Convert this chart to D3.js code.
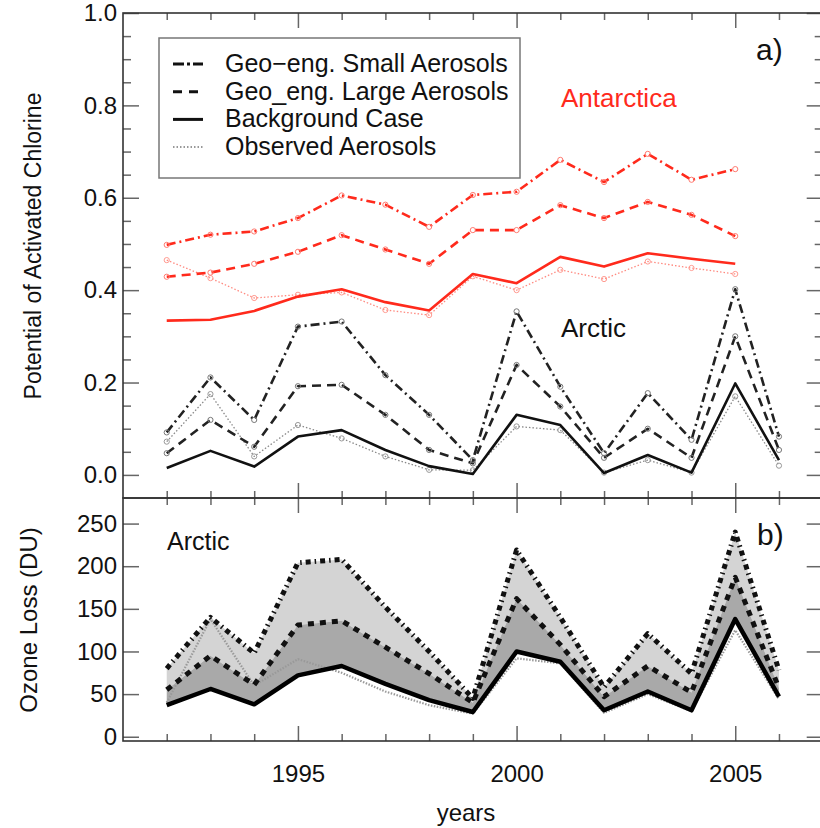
<!DOCTYPE html>
<html>
<head>
<meta charset="utf-8">
<script src="https://cdn.jsdelivr.net/npm/d3@7"></script>
<style>
  html, body { margin: 0; padding: 0; background: #fff; }
  svg text { font-family: "Liberation Sans", Arial, Helvetica, sans-serif; fill: #111; }
</style>
</head>
<body>
<svg id="chart" width="820" height="828"></svg>
<script>
// ---------------- data ----------------
const years = [1992,1993,1994,1995,1996,1997,1998,1999,2000,2001,2002,2003,2004,2005,2006];
const antYears = [1992,1993,1994,1995,1996,1997,1998,1999,2000,2001,2002,2003,2004,2005];

// Potential of activated chlorine - Antarctica
const antSmall = [0.498,0.520,0.527,0.556,0.605,0.585,0.537,0.606,0.613,0.682,0.634,0.695,0.639,0.662];
const antLarge = [0.429,0.438,0.457,0.483,0.519,0.488,0.457,0.530,0.530,0.584,0.556,0.591,0.563,0.517];
const antBase  = [0.334,0.336,0.355,0.386,0.402,0.374,0.356,0.435,0.415,0.472,0.451,0.480,0.468,0.457];
const antObs   = [0.465,0.426,0.383,0.390,0.395,0.357,0.346,0.430,0.400,0.444,0.424,0.462,0.448,0.435];

// Potential of activated chlorine - Arctic
const arcSmall = [0.092,0.211,0.119,0.321,0.332,0.216,0.130,0.032,0.354,0.191,0.047,0.177,0.076,0.402,0.083];
const arcLarge = [0.047,0.119,0.061,0.192,0.195,0.130,0.054,0.025,0.238,0.148,0.037,0.100,0.037,0.300,0.054];
const arcBase  = [0.015,0.052,0.018,0.083,0.097,0.054,0.019,0.002,0.130,0.108,0.004,0.043,0.005,0.198,0.032];
const arcObs   = [0.072,0.175,0.040,0.108,0.079,0.040,0.011,0.010,0.105,0.097,0.005,0.032,0.005,0.170,0.020];

// Arctic ozone loss (DU)
const ozSmall = [80,140,98,204,208,152,100,45,219,140,58,121,74,240,78];
const ozLarge = [55,95,61,131,136,105,74,40,162,108,47,83,52,187,57];
const ozBase  = [37,56,38,72,83,62,43,29,100,88,31,53,31,138,47];
const ozObs   = [40,138,60,91,75,53,37,27,92,86,28,50,30,125,44];

// ticks / labels
const xMajor = [1995,2000,2005];
const xMinor = [1992,1993,1994,1996,1997,1998,1999,2001,2002,2003,2004,2006];
const yTopMajor = [0,0.2,0.4,0.6,0.8,1.0];
const yTopMinor = [0.05,0.1,0.15,0.25,0.3,0.35,0.45,0.5,0.55,0.65,0.7,0.75,0.85,0.9,0.95];
const yBotTicks = [0,50,100,150,200,250];
const legendLabels = ["Geo\u2212eng. Small Aerosols","Geo_eng. Large Aerosols","Background Case","Observed Aerosols"];

// ---------------- layout ----------------
const svg = d3.select("#chart");
const L = 123, R = 822.7, T1 = 13, B1 = 498, B2 = 741;
const x = d3.scaleLinear().domain([1991,2007]).range([L,R]);
const yT = d3.scaleLinear().domain([-0.05,1.0]).range([B1,T1]);
const yB = d3.scaleLinear().domain([-5,280]).range([B2,B1]);

const RED = "#ff2a1c";
const tickColor = "#666";

// ---------------- bottom panel fills ----------------
const idx = d3.range(years.length);
const areaSL = d3.area().x(i => x(years[i])).y0(i => yB(ozLarge[i])).y1(i => yB(ozSmall[i]));
const areaLB = d3.area().x(i => x(years[i])).y0(i => yB(ozBase[i])).y1(i => yB(ozLarge[i]));
svg.append("path").attr("d", areaSL(idx)).attr("fill", "#d4d4d4");
svg.append("path").attr("d", areaLB(idx)).attr("fill", "#a9a9a9");

// ---------------- axes / ticks ----------------
function styleAxis(g) {
  g.select(".domain").remove();
  g.selectAll(".tick line").attr("stroke", tickColor).attr("stroke-width", 1.5);
  g.selectAll(".tick text").style("font-size", "24px").attr("fill", "#111");
}
function xEdge(yPos, inwardDown, withLabels) {
  const mk = inwardDown ? d3.axisTop : d3.axisBottom;
  const sMinor = svg.append("g").attr("transform", `translate(0,${yPos})`)
    .call(mk(x).tickValues(xMinor).tickSize(-7).tickFormat(""));
  styleAxis(sMinor);
  const sMajor = svg.append("g").attr("transform", `translate(0,${yPos})`)
    .call(mk(x).tickValues(xMajor).tickSize(-15).tickFormat(""));
  styleAxis(sMajor);
  if (withLabels) {
    const g = svg.append("g").attr("transform", `translate(0,${yPos})`)
      .call(d3.axisBottom(x).tickValues(xMajor).tickSize(0).tickPadding(24).tickFormat(d3.format("d")));
    styleAxis(g);
  }
}
xEdge(T1, true, false);
xEdge(B1, false, false);
xEdge(B1, true, false);
xEdge(B2, false, true);

// top panel y ticks
[[L, d3.axisLeft, true], [R, d3.axisRight, false]].forEach(([xp, mk, lab]) => {
  const gm = svg.append("g").attr("transform", `translate(${xp},0)`)
    .call(mk(yT).tickValues(yTopMinor).tickSize(-8).tickFormat(""));
  styleAxis(gm);
  const gM = svg.append("g").attr("transform", `translate(${xp},0)`)
    .call(mk(yT).tickValues(yTopMajor).tickSize(-16).tickPadding(22).tickFormat(lab ? d3.format(".1f") : ""));
  styleAxis(gM);
  if (lab) gM.selectAll(".tick text").attr("x", -6);
});
// bottom panel y ticks
[[L, d3.axisLeft, true], [R, d3.axisRight, false]].forEach(([xp, mk, lab]) => {
  const g = svg.append("g").attr("transform", `translate(${xp},0)`)
    .call(mk(yB).tickValues(yBotTicks).tickSize(-16).tickFormat(lab ? d3.format("d") : ""));
  styleAxis(g);
  if (lab) g.selectAll(".tick text").attr("x", -6);
});

// frames
svg.append("rect").attr("x", L).attr("y", T1).attr("width", R - L).attr("height", B1 - T1)
  .attr("fill", "none").attr("stroke", "#333").attr("stroke-width", 1.6);
svg.append("rect").attr("x", L).attr("y", B1).attr("width", R - L).attr("height", B2 - B1)
  .attr("fill", "none").attr("stroke", "#333").attr("stroke-width", 1.6);

// ---------------- top panel lines ----------------
const styles = {
  small: { dash: "9,4,2,4", w: 2.6 },
  large: { dash: "9,6", w: 2.6 },
  base:  { dash: null, w: 2.6 },
  obs:   { dash: "1.5,2", w: 1.3 }
};
function drawLine(xs, vals, yScale, color, st, markers) {
  const line = d3.line().x((d, i) => x(xs[i])).y(d => yScale(d));
  svg.append("path").attr("d", line(vals)).attr("fill", "none")
    .attr("stroke", color).attr("stroke-width", st.w)
    .attr("stroke-dasharray", st.dash).attr("stroke-linejoin", "round");
  if (markers) {
    svg.append("g").selectAll("circle").data(vals).join("circle")
      .attr("cx", (d, i) => x(xs[i])).attr("cy", d => yScale(d)).attr("r", 2.6)
      .attr("fill", "none").attr("stroke", markers).attr("stroke-width", 1);
  }
}
drawLine(antYears, antObs, yT, "#ff8a80", styles.obs, "#ff9a90");
drawLine(antYears, antBase, yT, RED, styles.base, null);
drawLine(antYears, antLarge, yT, RED, styles.large, "#ff7a70");
drawLine(antYears, antSmall, yT, RED, styles.small, "#ff7a70");

drawLine(years, arcObs, yT, "#888", styles.obs, "#999");
drawLine(years, arcBase, yT, "#111", styles.base, null);
drawLine(years, arcLarge, yT, "#222", styles.large, "#777");
drawLine(years, arcSmall, yT, "#222", styles.small, "#777");

// ---------------- bottom panel lines ----------------
drawLine(years, ozObs, yB, "#999", { dash: "1.5,1.5", w: 2.2 }, null);
drawLine(years, ozBase, yB, "#000", { dash: null, w: 4.5 }, null);
drawLine(years, ozLarge, yB, "#111", { dash: "6,6", w: 5 }, null);
drawLine(years, ozSmall, yB, "#111", { dash: "5,4,1.5,4", w: 5 }, null);

// ---------------- legend ----------------
const lg = svg.append("g");
lg.append("rect").attr("x", 159).attr("y", 38).attr("width", 361).attr("height", 140)
  .attr("fill", "#fff").attr("stroke", "#777").attr("stroke-width", 1.5);
const legStyles = [
  { dash: "11,3,3,3", w: 3, c: "#111" },
  { dash: "9,7", w: 3, c: "#111" },
  { dash: null, w: 3, c: "#111" },
  { dash: "1.5,2", w: 1.5, c: "#777" }
];
legendLabels.forEach((t, i) => {
  const by = 72 + i * 27.7;
  lg.append("line").attr("x1", 173).attr("x2", 203).attr("y1", by - 8).attr("y2", by - 8)
    .attr("stroke", legStyles[i].c).attr("stroke-width", legStyles[i].w)
    .attr("stroke-dasharray", legStyles[i].dash);
  lg.append("text").attr("x", 225).attr("y", by).style("font-size", "25px").text(t);
});

// ---------------- annotations ----------------
svg.append("text").attr("x", 561).attr("y", 107).style("font-size", "26px")
  .style("fill", RED).text("Antarctica");
svg.append("text").attr("x", 561).attr("y", 337).style("font-size", "26px").text("Arctic");
svg.append("text").attr("x", 167).attr("y", 550).style("font-size", "25px").text("Arctic");
svg.append("text").attr("x", 756).attr("y", 60).style("font-size", "30px").text("a)");
svg.append("text").attr("x", 757).attr("y", 545).style("font-size", "30px").text("b)");

// axis titles
svg.append("text").attr("transform", "translate(41,246) rotate(-90)").attr("text-anchor", "middle")
  .style("font-size", "23px").text("Potential of Activated Chlorine");
svg.append("text").attr("transform", "translate(37,620) rotate(-90)").attr("text-anchor", "middle")
  .style("font-size", "24px").text("Ozone Loss (DU)");
svg.append("text").attr("x", 466).attr("y", 821).attr("text-anchor", "middle")
  .style("font-size", "24px").text("years");
</script>
</body>
</html>
